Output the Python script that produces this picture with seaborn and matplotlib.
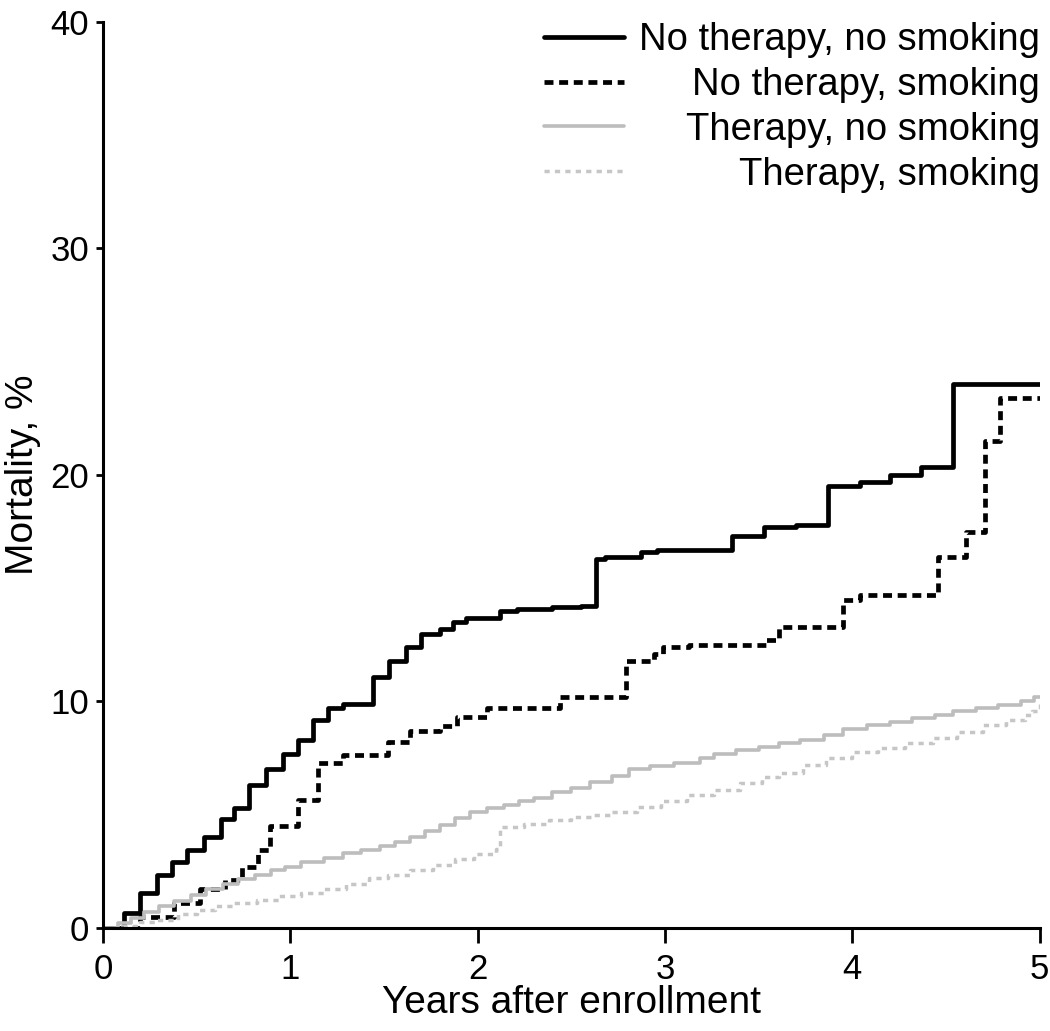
import pandas as pd
import matplotlib
matplotlib.use('Agg')
import matplotlib.pyplot as plt
import seaborn as sns

# step curves (time in years, cumulative mortality in %)
years_nt_ns = [0, 0.11, 0.20, 0.29, 0.37, 0.45, 0.54, 0.63, 0.70, 0.78, 0.87, 0.96, 1.04, 1.12,
               1.20, 1.28, 1.44, 1.53, 1.62, 1.70, 1.80, 1.87, 1.94, 2.12, 2.21, 2.40, 2.55, 2.63,
               2.68, 2.87, 2.96, 3.36, 3.53, 3.70, 3.87, 4.04, 4.20, 4.37, 4.54, 5.0]
mort_nt_ns = [0, 0.66, 1.55, 2.35, 2.9, 3.45, 4.0, 4.8, 5.3, 6.3, 7.0, 7.7, 8.3, 9.2,
              9.7, 9.9, 11.1, 11.8, 12.4, 13.0, 13.2, 13.5, 13.7, 14.0, 14.1, 14.15, 14.2, 16.3,
              16.4, 16.6, 16.7, 17.3, 17.7, 17.8, 19.5, 19.7, 20.0, 20.35, 24.0, 24.0]

years_nt_s = [0, 0.20, 0.38, 0.52, 0.65, 0.74, 0.83, 0.89, 1.04, 1.15, 1.28, 1.52, 1.64, 1.80,
              1.89, 2.05, 2.44, 2.79, 2.94, 2.99, 3.13, 3.54, 3.61, 3.95, 4.04, 4.46, 4.61, 4.71,
              4.79, 5.0]
mort_nt_s = [0, 0.5, 1.1, 1.7, 2.1, 2.7, 3.45, 4.5, 5.65, 7.3, 7.65, 8.2, 8.7, 8.9,
             9.3, 9.7, 10.2, 11.8, 12.1, 12.4, 12.5, 12.7, 13.3, 14.5, 14.7, 16.4, 17.5, 21.5,
             23.4, 23.4]

years_t_ns = [0, 0.08, 0.15, 0.22, 0.30, 0.38, 0.47, 0.55, 0.64, 0.72, 0.81, 0.90, 0.97, 1.06,
              1.18, 1.28, 1.38, 1.48, 1.56, 1.64, 1.72, 1.80, 1.88, 1.96, 2.05, 2.14, 2.22, 2.30,
              2.40, 2.50, 2.60, 2.72, 2.81, 2.92, 3.05, 3.19, 3.26, 3.38, 3.50, 3.61, 3.72, 3.85,
              3.95, 4.08, 4.20, 4.32, 4.44, 4.54, 4.66, 4.78, 4.90, 4.97, 5.0]
mort_t_ns = [0, 0.2, 0.45, 0.7, 0.95, 1.2, 1.45, 1.7, 1.95, 2.15, 2.35, 2.55, 2.7, 2.9,
             3.1, 3.3, 3.45, 3.6, 3.8, 4.0, 4.3, 4.55, 4.85, 5.1, 5.3, 5.45, 5.6, 5.75,
             6.0, 6.2, 6.45, 6.7, 7.0, 7.15, 7.3, 7.5, 7.7, 7.85, 8.0, 8.15, 8.3, 8.5,
             8.8, 8.95, 9.1, 9.25, 9.4, 9.6, 9.7, 9.85, 10.0, 10.2, 10.2]

years_t_s = [0, 0.10, 0.20, 0.29, 0.40, 0.50, 0.60, 0.70, 0.82, 0.94, 1.06, 1.18, 1.30, 1.42,
             1.52, 1.64, 1.76, 1.88, 1.98, 2.10, 2.12, 2.25, 2.38, 2.50, 2.62, 2.72, 2.85, 2.98,
             3.12, 3.26, 3.40, 3.52, 3.61, 3.74, 3.86, 4.00, 4.14, 4.28, 4.43, 4.56, 4.70, 4.82,
             4.92, 4.96, 5.0]
mort_t_s = [0, 0.1, 0.25, 0.35, 0.6, 0.8, 0.95, 1.1, 1.25, 1.4, 1.55, 1.7, 1.95, 2.2,
            2.35, 2.55, 2.8, 3.05, 3.25, 3.5, 4.45, 4.6, 4.75, 4.9, 5.0, 5.1, 5.35, 5.6,
            5.85, 6.1, 6.4, 6.65, 6.85, 7.2, 7.5, 7.75, 7.95, 8.15, 8.4, 8.65, 8.95, 9.2,
            9.4, 9.6, 9.9]

groups = ['No therapy, no smoking', 'No therapy, smoking', 'Therapy, no smoking', 'Therapy, smoking']
x_ticks = [0, 1, 2, 3, 4, 5]
y_ticks = [0, 10, 20, 30, 40]

series = [(years_nt_ns, mort_nt_ns), (years_nt_s, mort_nt_s),
          (years_t_ns, mort_t_ns), (years_t_s, mort_t_s)]
styles = [dict(color='black', lw=3.4, ls='-'),
          dict(color='black', lw=3.4, ls=(0, (1.9, 1.2))),
          dict(color='#bdbdbd', lw=2.6, ls='-'),
          dict(color='#c6c6c6', lw=2.5, ls=(0, (1.5, 1.5)))]

sns.set_style('ticks')
plt.rcParams['font.family'] = ['Liberation Sans', 'DejaVu Sans']

fig = plt.figure(figsize=(10.5, 10.31), dpi=100)
ax = fig.add_axes([0.098, 0.0999, 0.892, 0.8788])

for name, (xs, ys), st in zip(groups, series, styles):
    df = pd.DataFrame({'Years': xs, 'Mortality': ys})
    sns.lineplot(data=df, x='Years', y='Mortality', drawstyle='steps-post', estimator=None,
                 ax=ax, label=name, color=st['color'], linewidth=st['lw'], linestyle=st['ls'])

ax.set_xlim(0, 5)
ax.set_ylim(0, 40)
ax.set_xticks(x_ticks)
ax.set_yticks(y_ticks)
ax.tick_params(axis='both', labelsize=25, width=2, color='black', labelcolor='black')
ax.tick_params(axis='x', length=11, pad=7)
ax.tick_params(axis='y', length=5, pad=5)
for s in ['left', 'bottom']:
    ax.spines[s].set_linewidth(2.2)
    ax.spines[s].set_color('black')
sns.despine(ax=ax)

ax.set_xlabel('Years after enrollment', fontsize=28, color='black')
ax.set_ylabel('Mortality, %', fontsize=28, color='black')
ax.xaxis.set_label_coords(0.5, -0.063)
ax.yaxis.set_label_coords(-0.066, 0.5)

leg = ax.legend(loc='upper right', bbox_to_anchor=(1.005, 1.004), frameon=False, fontsize=27.5,
                handlelength=2.1, handletextpad=0.4, labelspacing=0.23, borderaxespad=0,
                borderpad=0.1)
for t in leg.get_texts():
    t.set_color('black')

# right-align the legend labels
fig.canvas.draw()
renderer = fig.canvas.get_renderer()
widths = [t.get_window_extent(renderer).width for t in leg.get_texts()]
for t, w in zip(leg.get_texts(), widths):
    t.set_position((max(widths) - w, 0))

fig.savefig('out.png', dpi=100)
